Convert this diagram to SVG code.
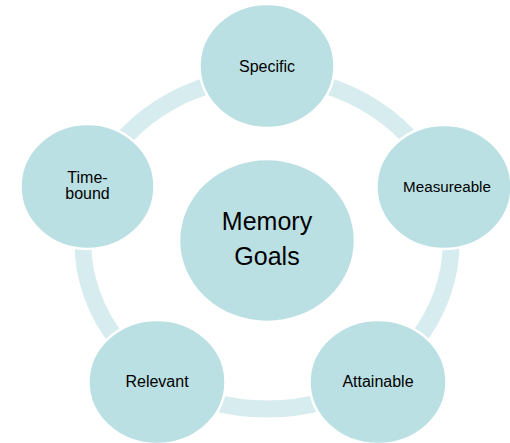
<svg xmlns="http://www.w3.org/2000/svg" width="510" height="443" viewBox="0 0 510 443">
<style>
.ring{fill:none;stroke:#d6ecee;stroke-width:17}
.node{fill:#bbe0e3;stroke:#ffffff;stroke-width:2.5}
.lbl{font-family:"Liberation Sans",Arial,sans-serif;font-size:16px;fill:#000;text-anchor:middle}
.big{font-size:25px}
</style>
<rect width="510" height="443" fill="#ffffff"/>
<g id="connectors">
<path class="ring" d="M267,77 A184,166 0 0 1 442,191.7"/>
<path class="ring" d="M442,191.7 A184,166 0 0 1 375.2,377.3"/>
<path class="ring" d="M375.2,377.3 A184,166 0 0 1 158.8,377.3"/>
<path class="ring" d="M158.8,377.3 A184,166 0 0 1 92,191.7"/>
<path class="ring" d="M92,191.7 A184,166 0 0 1 267,77"/>
</g>
<g id="center">
<ellipse class="node" cx="267" cy="240.5" rx="88" ry="81.5"/>
<text class="lbl big" x="267" y="230">Memory</text>
<text class="lbl big" x="267" y="265">Goals</text>
</g>
<g id="specific">
<ellipse class="node" cx="267" cy="66" rx="67.5" ry="62"/>
<text class="lbl" x="267" y="72">Specific</text>
</g>
<g id="measureable">
<ellipse class="node" cx="444" cy="187" rx="67.5" ry="62"/>
<text class="lbl" x="447" y="192" style="font-size:15.2px">Measureable</text>
</g>
<g id="attainable">
<ellipse class="node" cx="378" cy="382" rx="68.5" ry="62"/>
<text class="lbl" x="378" y="387">Attainable</text>
</g>
<g id="relevant">
<ellipse class="node" cx="157" cy="382" rx="68.5" ry="62"/>
<text class="lbl" x="157" y="387">Relevant</text>
</g>
<g id="timebound">
<ellipse class="node" cx="87.5" cy="186.5" rx="67" ry="62.5"/>
<text class="lbl" x="87.5" y="183">Time-</text>
<text class="lbl" x="87.5" y="199">bound</text>
</g>
</svg>
